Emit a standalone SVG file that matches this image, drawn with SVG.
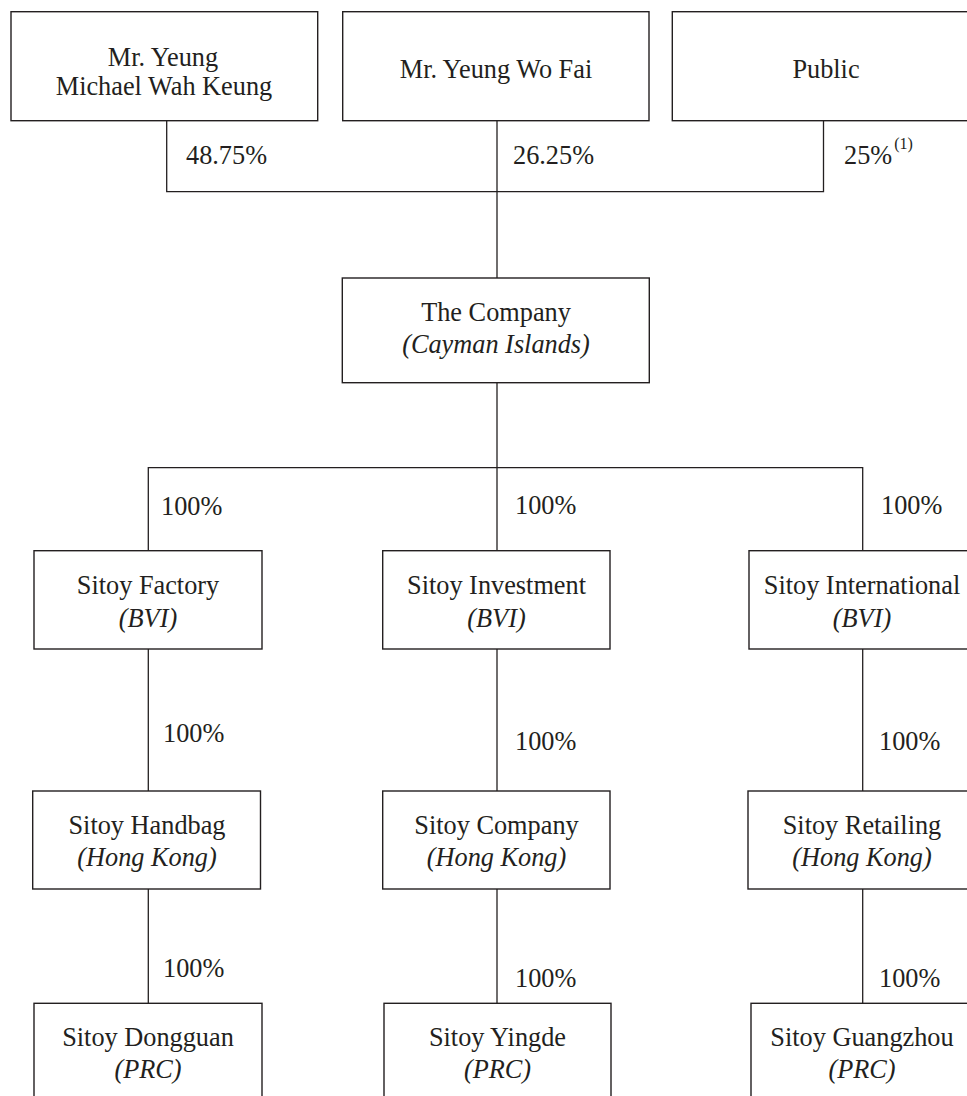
<svg xmlns="http://www.w3.org/2000/svg" width="967" height="1096" viewBox="0 0 967 1096">
<style>
.box{fill:#fff;stroke:#231f20;stroke-width:1.4}
.ln{fill:none;stroke:#231f20;stroke-width:1.3}
text{font-family:"Liberation Serif","Times New Roman",serif;font-size:26.3px;fill:#231f20}
.c{text-anchor:middle}
.i{font-style:italic}
.sup{font-size:16px}
</style>
<rect width="967" height="1096" fill="#fff"/>
<g id="connectors">
<polyline class="ln" points="166.7,120.7 166.7,191.7 823.5,191.7 823.5,120.7"/>
<line class="ln" x1="497" y1="120.7" x2="497" y2="278"/>
<line class="ln" x1="497" y1="382.7" x2="497" y2="467.7"/>
<polyline class="ln" points="148.3,550.7 148.3,467.7 862.7,467.7 862.7,550.7"/>
<line class="ln" x1="497" y1="467.7" x2="497" y2="550.7"/>
<line class="ln" x1="148.3" y1="649" x2="148.3" y2="791"/>
<line class="ln" x1="497" y1="649" x2="497" y2="791"/>
<line class="ln" x1="862.7" y1="649" x2="862.7" y2="791"/>
<line class="ln" x1="148.3" y1="889" x2="148.3" y2="1003.3"/>
<line class="ln" x1="497" y1="889" x2="497" y2="1003.3"/>
<line class="ln" x1="862.7" y1="889" x2="862.7" y2="1003.3"/>
<text x="186" y="164">48.75%</text>
<text x="513" y="164">26.25%</text>
<text x="844" y="164">25%<tspan class="sup" dx="2" dy="-15">(1)</tspan></text>
<text x="161" y="515">100%</text>
<text x="515" y="514">100%</text>
<text x="881" y="514">100%</text>
<text x="163" y="742">100%</text>
<text x="515" y="750">100%</text>
<text x="879" y="750">100%</text>
<text x="163" y="977">100%</text>
<text x="515" y="987">100%</text>
<text x="879" y="987">100%</text>
</g>
<g id="yeung-michael">
<rect class="box" x="11" y="11.7" width="306.7" height="109"/>
<text class="c" x="163" y="66">Mr. Yeung</text>
<text class="c" x="164" y="95">Michael Wah Keung</text>
</g>
<g id="yeung-wo-fai">
<rect class="box" x="342.7" y="11.7" width="306.3" height="109"/>
<text class="c" x="496" y="78">Mr. Yeung Wo Fai</text>
</g>
<g id="public">
<rect class="box" x="672.3" y="11.7" width="306" height="109"/>
<text class="c" x="826" y="78">Public</text>
</g>
<g id="company">
<rect class="box" x="342.3" y="278" width="307" height="104.7"/>
<text class="c" x="496" y="321">The Company</text>
<text class="c i" x="496" y="353">(Cayman Islands)</text>
</g>
<g id="sitoy-factory">
<rect class="box" x="34" y="550.7" width="228" height="98.3"/>
<text class="c" x="148" y="594">Sitoy Factory</text>
<text class="c i" x="148" y="627">(BVI)</text>
</g>
<g id="sitoy-investment">
<rect class="box" x="382.7" y="550.7" width="227.3" height="98.3"/>
<text class="c" x="496.5" y="594">Sitoy Investment</text>
<text class="c i" x="496.5" y="627">(BVI)</text>
</g>
<g id="sitoy-international">
<rect class="box" x="749" y="550.7" width="228" height="98.3"/>
<text class="c" x="862" y="594">Sitoy International</text>
<text class="c i" x="862" y="627">(BVI)</text>
</g>
<g id="sitoy-handbag">
<rect class="box" x="32.7" y="791" width="227.8" height="98"/>
<text class="c" x="147" y="833.5">Sitoy Handbag</text>
<text class="c i" x="147" y="866">(Hong Kong)</text>
</g>
<g id="sitoy-company">
<rect class="box" x="382.7" y="791" width="227.3" height="98"/>
<text class="c" x="496.5" y="833.5">Sitoy Company</text>
<text class="c i" x="496.5" y="866">(Hong Kong)</text>
</g>
<g id="sitoy-retailing">
<rect class="box" x="748" y="791" width="228" height="98"/>
<text class="c" x="862" y="833.5">Sitoy Retailing</text>
<text class="c i" x="862" y="866">(Hong Kong)</text>
</g>
<g id="sitoy-dongguan">
<rect class="box" x="34" y="1003.3" width="228" height="110"/>
<text class="c" x="148" y="1045.5">Sitoy Dongguan</text>
<text class="c i" x="148" y="1078">(PRC)</text>
</g>
<g id="sitoy-yingde">
<rect class="box" x="384" y="1003.3" width="227" height="110"/>
<text class="c" x="497.5" y="1045.5">Sitoy Yingde</text>
<text class="c i" x="497.5" y="1078">(PRC)</text>
</g>
<g id="sitoy-guangzhou">
<rect class="box" x="751" y="1003.3" width="228" height="110"/>
<text class="c" x="862" y="1045.5">Sitoy Guangzhou</text>
<text class="c i" x="862" y="1078">(PRC)</text>
</g>
</svg>
